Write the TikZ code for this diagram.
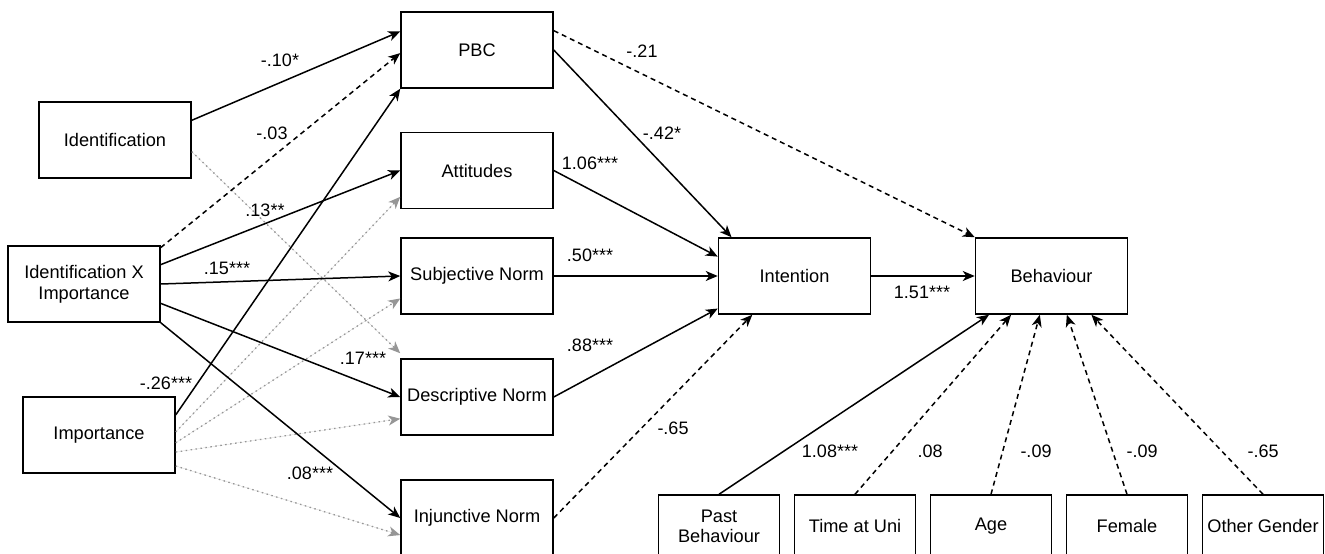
\documentclass[tikz,border=0pt]{standalone}
\usepackage{fontspec}
\setmainfont{Liberation Sans}
\usetikzlibrary{arrows.meta,calc}
\definecolor{dotgray}{RGB}{150,150,150}
\begin{document}
\begin{tikzpicture}[x=1pt,y=-1pt,
  box/.style={draw, line width=1.5pt, minimum width=152pt, minimum height=76pt,
    inner sep=2pt, align=center, font=\fontsize{18.2}{21}\selectfont},
  smallbox/.style={box, minimum width=121pt, minimum height=62pt,
    font=\fontsize{18.2}{20}\selectfont},
  lbl/.style={inner sep=0pt, font=\fontsize{18}{21}\selectfont},
  link/.style={line width=1.5pt, -{Stealth[length=12pt,width=10pt,inset=3.5pt]}},
  solidarr/.style={link},
  dasharr/.style={link, dash pattern=on 5pt off 4pt},
  dotarr/.style={link, draw=dotgray, fill=dotgray, line width=1.3pt,
    dash pattern=on 1.5pt off 3.5pt},
]
\useasboundingbox (0,0) rectangle (1325,554);

% predictors
\node[box] (idf)  at (115,140) {Identification};
\node[box] (idxi) at (84,284)  {Identification X\\Importance};
\node[box] (imp)  at (99,435)  {Importance};

% mediators
\node[box] (pbc) at (477,50)  {PBC};
\node[box] (att) at (477,170.5) {Attitudes};
\node[box] (sub) at (477,276) {Subjective Norm};
\node[box] (des) at (477,397) {Descriptive Norm};
\node[box] (inj) at (477,518) {Injunctive Norm};

% outcomes
\node[box] (int) at (794.5,276) {Intention};
\node[box] (beh) at (1051.5,276) {Behaviour};

% covariates
\node[smallbox] (pb)  at (719,526)  {Past\\Behaviour};
\node[smallbox] (tu)  at (855,526)  {Time at Uni};
\node[smallbox] (age) at (991,526)  {Age};
\node[smallbox] (fem) at (1127,526) {Female};
\node[smallbox] (oth) at (1263,526) {Other Gender};

% non-significant paths from importance and identification
\draw[dotarr] ($(idf.north east)!0.65!(idf.south east)$) -- ([yshift=5pt]des.north west);
\draw[dotarr] ($(imp.north east)!0.46!(imp.south east)$) -- ($(att.north west)!0.84!(att.south west)$);
\draw[dotarr] ($(imp.north east)!0.60!(imp.south east)$) -- ($(sub.north west)!0.79!(sub.south west)$);
\draw[dotarr] ($(imp.north east)!0.72!(imp.south east)$) -- ($(des.north west)!0.78!(des.south west)$);
\draw[dotarr] ($(imp.north east)!0.90!(imp.south east)$) -- ($(inj.north west)!0.72!(inj.south west)$);

% paths into PBC
\draw[solidarr] ($(idf.north east)!0.246!(idf.south east)$) -- ($(pbc.north west)!0.26!(pbc.south west)$);
\draw[dasharr] ($(idxi.north east)!0.03!(idxi.south east)$) -- ($(pbc.north west)!0.54!(pbc.south west)$);
\draw[solidarr] ($(imp.north east)!0.24!(imp.south east)$) -- (pbc.south west);

% paths from the interaction term
\draw[solidarr] ($(idxi.north east)!0.25!(idxi.south east)$) -- (att.west);
\draw[solidarr] (idxi.east) -- (sub.west);
\draw[solidarr] ($(idxi.north east)!0.75!(idxi.south east)$) -- (des.west);
\draw[solidarr] (idxi.south east) -- (inj.west);

% paths into intention
\draw[solidarr] (pbc.east) -- ($(int.north west)!0.09!(int.north east)$);
\draw[solidarr] (att.east) -- ($(int.north west)!0.25!(int.south west)$);
\draw[solidarr] (sub.east) -- (int.west);
\draw[solidarr] (des.east) -- ($(int.north west)!0.92!(int.south west)$);
\draw[dasharr] (inj.east) -- ($(int.south west)!0.225!(int.south east)$);

% paths into behaviour
\draw[dasharr] ($(pbc.north east)!0.25!(pbc.south east)$) -- (beh.north west);
\draw[solidarr] (int.east) -- (beh.west);
\draw[solidarr] (pb.north)  -- ($(beh.south west)!0.093!(beh.south east)$);
\draw[dasharr]  (tu.north)  -- ($(beh.south west)!0.237!(beh.south east)$);
\draw[dasharr]  (age.north) -- ($(beh.south west)!0.424!(beh.south east)$);
\draw[dasharr]  (fem.north) -- ($(beh.south west)!0.60!(beh.south east)$);
\draw[dasharr]  (oth.north) -- ($(beh.south west)!0.76!(beh.south east)$);

% path coefficients
\node[lbl] (c1)  at (280,60)  {-.10*};
\node[lbl] (c2)  at (272,133) {-.03};
\node[lbl] (c3)  at (166,383) {-.26***};
\node[lbl] (c4)  at (265,210) {.13**};
\node[lbl] (c5)  at (227,268) {.15***};
\node[lbl] (c6)  at (363,358) {.17***};
\node[lbl] (c7)  at (310,473) {.08***};
\node[lbl] (c8)  at (662,133) {-.42*};
\node[lbl] (c9)  at (642,51)  {-.21};
\node[lbl] (c10) at (590,163) {1.06***};
\node[lbl] (c11) at (590,255) {.50***};
\node[lbl] (c12) at (590,345) {.88***};
\node[lbl] (c13) at (673,428) {-.65};
\node[lbl] (c14) at (922,292) {1.51***};
\node[lbl] (c15) at (830,451) {1.08***};
\node[lbl] (c16) at (930,451) {.08};
\node[lbl] (c17) at (1036,451) {-.09};
\node[lbl] (c18) at (1142,451) {-.09};
\node[lbl] (c19) at (1263,451) {-.65};
\end{tikzpicture}
\end{document}
